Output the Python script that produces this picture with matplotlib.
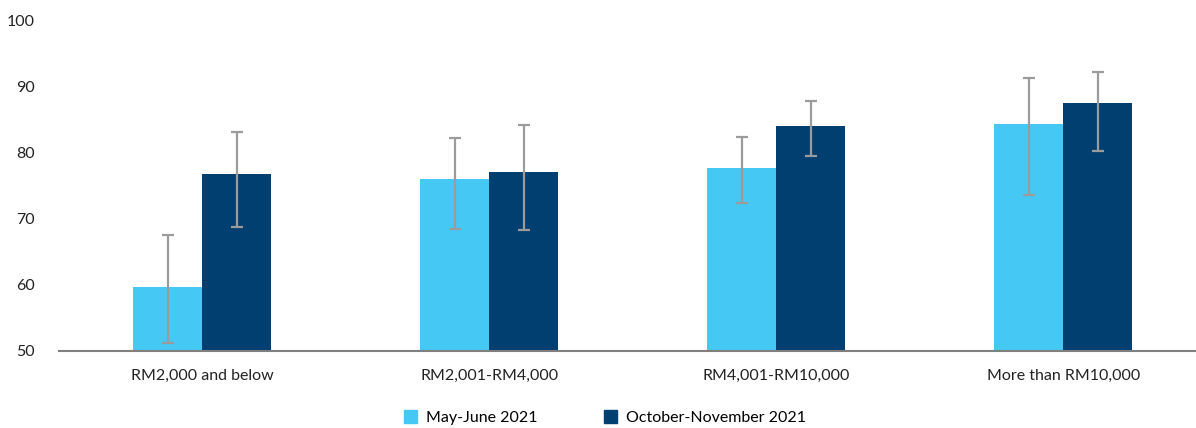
import numpy as np
import matplotlib.pyplot as plt
from matplotlib.patches import Patch

plt.rcParams['font.family'] = ['Lato', 'DejaVu Sans']

categories = ['RM2,000 and below', 'RM2,001-RM4,000', 'RM4,001-RM10,000', 'More than RM10,000']
series_names = ['May-June 2021', 'October-November 2021']

may_june = [59.6, 76.0, 77.7, 84.3]
may_june_low = [51.2, 68.5, 72.4, 73.5]
may_june_high = [67.5, 82.2, 82.3, 91.3]

oct_nov = [76.8, 77.1, 84.0, 87.4]
oct_nov_low = [68.8, 68.3, 79.4, 80.2]
oct_nov_high = [83.1, 84.1, 87.8, 92.2]

light = '#45C8F3'
dark = '#003F70'
err_col = '#9B9B9B'

fig = plt.figure(figsize=(11.96, 4.28), dpi=100)
ax = fig.add_axes([0.049, 0.18, 0.96, 0.773])

x = np.arange(len(categories))
w = 0.24

def draw(offset, vals, lo, hi, col):
    vals = np.array(vals)
    yerr = [vals - np.array(lo), np.array(hi) - vals]
    ax.bar(x + offset, vals - 50, w, bottom=50, color=col, zorder=2)
    ax.errorbar(x + offset, vals, yerr=yerr, fmt='none', ecolor=err_col,
                elinewidth=1.6, capsize=4.5, capthick=1.6, zorder=3)

draw(-w / 2, may_june, may_june_low, may_june_high, light)
draw(w / 2, oct_nov, oct_nov_low, oct_nov_high, dark)

ax.set_xlim(-0.5, 3.5)
ax.set_ylim(50, 100)
ax.set_yticks(range(50, 101, 10))
ax.set_xticks(x)
ax.set_xticklabels(categories)
ax.tick_params(length=0, labelsize=11.5, colors='#222222')
ax.tick_params(axis='x', pad=13)
ax.tick_params(axis='y', pad=17)
for s in ['top', 'right', 'left']:
    ax.spines[s].set_visible(False)
ax.spines['bottom'].set_color('#7F7F7F')
ax.spines['bottom'].set_linewidth(1.5)

handles = [Patch(color=light, label=series_names[0]), Patch(color=dark, label=series_names[1])]
fig.legend(handles=handles, loc='center', bbox_to_anchor=(0.506, 0.024), ncol=2,
           frameon=False, fontsize=11.5, handlelength=0.8, handleheight=0.8,
           columnspacing=4.2, handletextpad=0.55)

fig.savefig('out.png', dpi=100)
